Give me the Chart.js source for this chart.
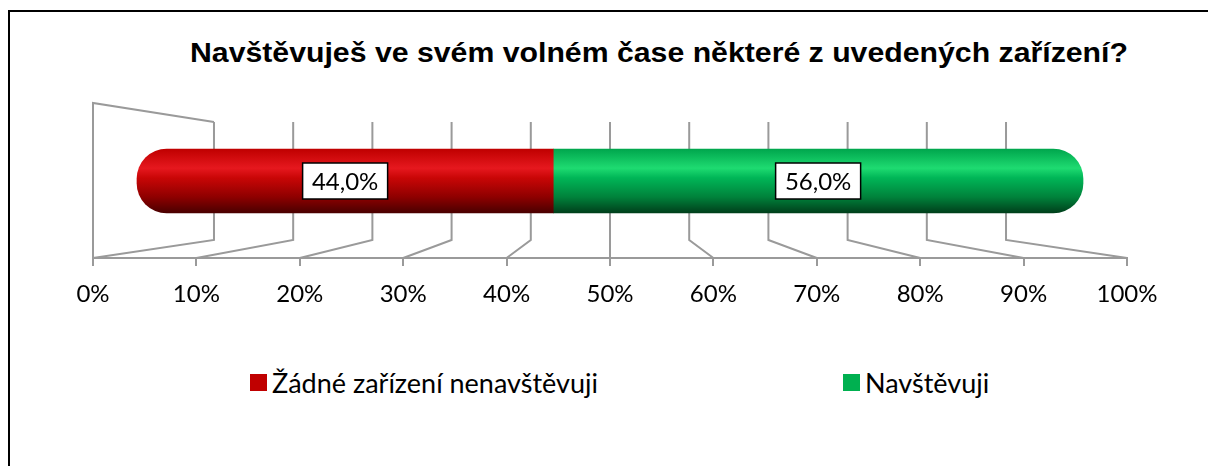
<!DOCTYPE html>
<html lang="cs">
<head>
<meta charset="utf-8">
<title>Navštěvuješ ve svém volném čase některé z uvedených zařízení?</title>
<script src="https://cdn.jsdelivr.net/npm/chart.js@4"></script>
<style>
  html, body { margin: 0; padding: 0; background: #fff; overflow: hidden; }
  body { width: 1208px; height: 466px; position: relative; }
  .frame { position: absolute; left: 8px; top: 10px; width: 1300px; height: 600px; border: 2px solid #000; }
  .title { position: absolute; left: 190px; top: 40px; font: bold 27px "Liberation Sans", Arial, sans-serif; line-height: 27px; color: #000; white-space: nowrap; transform-origin: 0 0; transform: scaleX(1.12); }
  .chart-box { position: absolute; left: 0; top: 0; width: 1208px; height: 330px; }
  .legend { position: absolute; top: 367px; font: 27px Lato, sans-serif; line-height: 32px; color: #000; white-space: nowrap; }
  .legend i { display: inline-block; width: 17px; height: 17px; vertical-align: top; margin: 7px 5px 0 0; }
</style>
</head>
<body>
<div class="frame"></div>
<div class="title" id="title"></div>
<div class="chart-box"><canvas id="chart"></canvas></div>
<div id="legend"></div>
<script>
'use strict';

// ── Data ──
const chartTitle   = 'Navštěvuješ ve svém volném čase některé z uvedených zařízení?';
const categories   = [''];
const seriesNames  = ['Žádné zařízení nenavštěvuji', 'Navštěvuji'];
const seriesValues = [[44.0], [56.0]];
const tickValues   = [0, 10, 20, 30, 40, 50, 60, 70, 80, 90, 100];

// ── Styling ──
const legendColors = ['#c00000', '#00b050'];
const gradientStops = [
    [[0, '#bf0000'], [0.3, '#e6181e'], [0.45, '#c90606'], [0.75, '#8e0000'], [1, '#4a0000']],
    [[0, '#00a64d'], [0.3, '#1edb71'], [0.45, '#00b657'], [0.75, '#00823b'], [1, '#003f1b']]
];
const legendLeft = [250, 843];
const gridGray = '#9a9a9a';

document.getElementById('title').textContent = chartTitle;

const fmtPct = v => v.toFixed(1).replace('.', ',') + '%';

// vertical gradient across the bar thickness
function barGradient(ctx, i) {
    const chart = ctx.chart;
    const y = chart.scales.y;
    if (!chart.chartArea || !y) return legendColors[i];
    const cy = y.getPixelForValue(ctx.dataIndex);
    const g = chart.ctx.createLinearGradient(0, cy - 32, 0, cy + 32);
    gradientStops[i].forEach(([o, c]) => g.addColorStop(o, c));
    return g;
}

// 3D-style walls, floor and back gridlines drawn from the tick scale
const perspectiveGrid = {
    id: 'perspectiveGrid',
    beforeDatasetsDraw(chart) {
        const { ctx, chartArea } = chart;
        const xs = chart.scales.x;
        const mid = (xs.left + xs.right) / 2;
        const k = 0.766;
        const front = chartArea.bottom;
        const backTop = chartArea.top + 18;
        const backBottom = chartArea.bottom - 18;
        const wallTop = chartArea.top - 1;
        ctx.save();
        ctx.strokeStyle = gridGray;
        ctx.lineWidth = 2;
        tickValues.forEach(v => {
            const fx = xs.getPixelForValue(v);
            const bx = mid + (fx - mid) * k;
            ctx.beginPath();
            ctx.moveTo(bx, backTop);
            ctx.lineTo(bx, backBottom);
            ctx.lineTo(fx, front);
            ctx.stroke();
            if (v === tickValues[0]) {
                ctx.beginPath();
                ctx.moveTo(fx, front);
                ctx.lineTo(fx, wallTop);
                ctx.lineTo(bx, backTop);
                ctx.stroke();
            }
        });
        ctx.restore();
    }
};

// boxed value labels in the middle of each segment
const valueBoxes = {
    id: 'valueBoxes',
    afterDatasetsDraw(chart) {
        const { ctx } = chart;
        ctx.save();
        ctx.font = '24px Lato, sans-serif';
        ctx.textAlign = 'center';
        ctx.textBaseline = 'middle';
        chart.data.datasets.forEach((ds, di) => {
            chart.getDatasetMeta(di).data.forEach((el, j) => {
                const cx = (el.x + el.base) / 2;
                const cy = el.y;
                const w = 85, h = 36;
                ctx.fillStyle = '#fff';
                ctx.fillRect(cx - w / 2, cy - h / 2, w, h);
                ctx.strokeStyle = '#000';
                ctx.lineWidth = 1.5;
                ctx.strokeRect(cx - w / 2, cy - h / 2, w, h);
                ctx.fillStyle = '#000';
                ctx.fillText(fmtPct(ds.data[j]), cx, cy + 1);
            });
        });
        ctx.restore();
    }
};

const chart = new Chart(document.getElementById('chart'), {
    type: 'bar',
    data: {
        labels: categories,
        datasets: seriesNames.map((name, i) => ({
            label: name,
            data: seriesValues[i],
            xAxisID: 'x2',
            backgroundColor: ctx => barGradient(ctx, i),
            borderWidth: 0,
            borderSkipped: false,
            borderRadius: i === 0 ? { topLeft: 30, bottomLeft: 30 } : { topRight: 30, bottomRight: 30 },
            barThickness: 64
        }))
    },
    options: {
        indexAxis: 'y',
        responsive: true,
        maintainAspectRatio: false,
        animation: false,
        layout: { padding: { top: 104, bottom: 22, left: 93, right: 81 } },
        plugins: {
            legend: { display: false },
            tooltip: { enabled: false }
        },
        scales: {
            x: {
                type: 'linear',
                position: 'bottom',
                min: 0,
                max: 100,
                afterBuildTicks: s => { s.ticks = tickValues.map(v => ({ value: v })); },
                afterFit: s => { s.height = 50; },
                ticks: {
                    color: '#000',
                    font: { family: 'Lato', size: 24 },
                    padding: 14,
                    maxRotation: 0,
                    callback: v => v + '%'
                },
                grid: { drawOnChartArea: false, drawTicks: true, tickLength: 8, color: gridGray, lineWidth: 2 },
                border: { display: true, color: gridGray, width: 2 }
            },
            x2: {
                type: 'linear',
                display: false,
                stacked: true,
                min: -4.65,
                max: 104.65
            },
            y: {
                type: 'category',
                display: false,
                stacked: true
            }
        }
    },
    plugins: [perspectiveGrid, valueBoxes]
});

// HTML legend
const legendHost = document.getElementById('legend');
seriesNames.forEach((name, i) => {
    const item = document.createElement('div');
    item.className = 'legend';
    item.style.left = legendLeft[i] + 'px';
    const sw = document.createElement('i');
    sw.style.background = legendColors[i];
    item.appendChild(sw);
    item.appendChild(document.createTextNode(name));
    legendHost.appendChild(item);
});
</script>
</body>
</html>
